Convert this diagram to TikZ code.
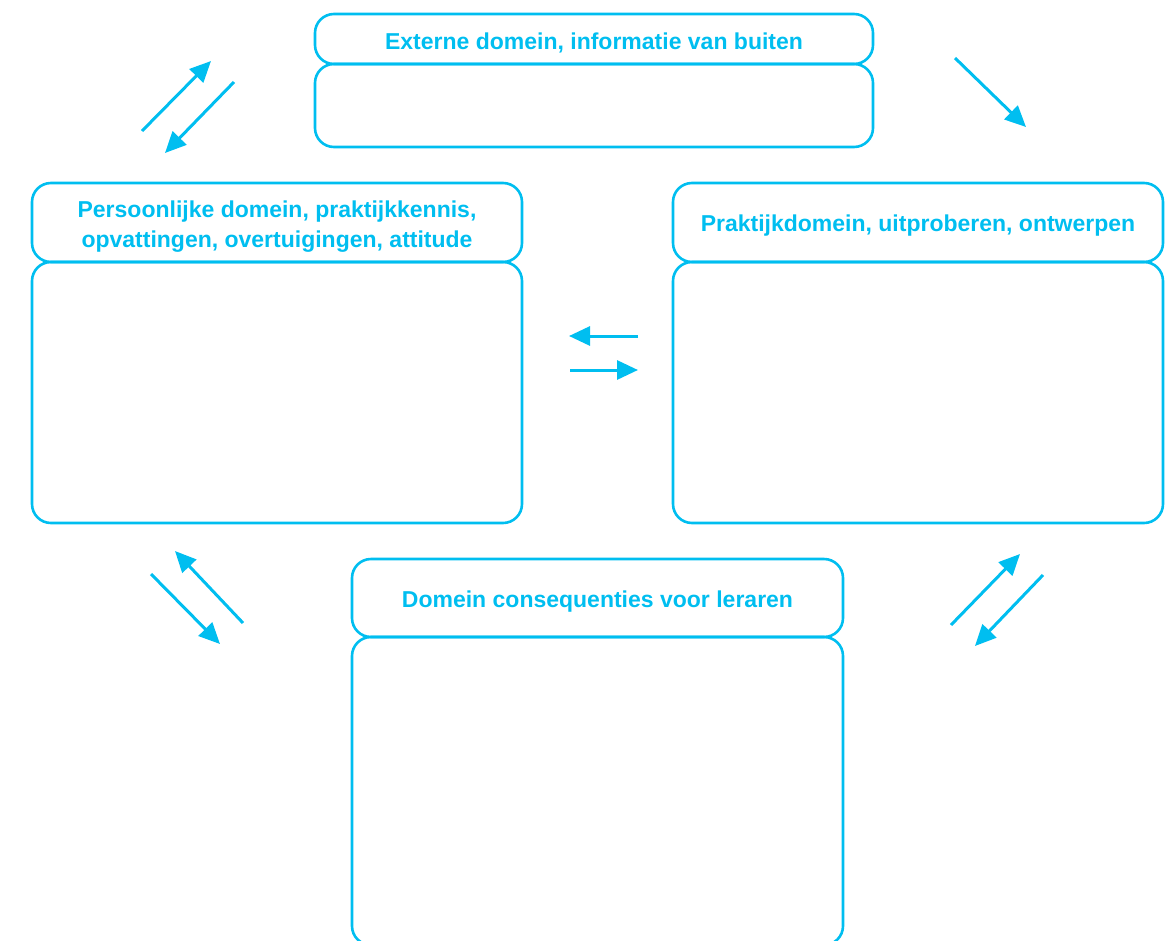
\documentclass[tikz,border=0pt]{standalone}
\usepackage{fontspec}
\setmainfont{Liberation Sans}
\usetikzlibrary{arrows.meta}
\definecolor{sky}{HTML}{00BEF0}
\tikzset{
  box/.style={draw=sky, line width=2.6pt, rounded corners=19pt, inner sep=0pt, fill=none},
  lbl/.style={text=sky, font=\bfseries\fontsize{23}{30}\selectfont, align=center, inner sep=0pt},
  arr/.style={draw=sky, line width=3pt, -{Triangle[length=21pt,width=19pt]}}
}
\begin{document}
\begin{tikzpicture}[x=1pt,y=-1pt]
\useasboundingbox (0,0) rectangle (1167,940);
\clip (0,0) rectangle (1167,940);
% top
\node[box, minimum width=558pt, minimum height=50pt] (th) at (594,39) {};
\node[box, minimum width=558pt, minimum height=83pt] (tb) at (594,105.5) {};
\node[lbl] (tt) at ([yshift=-3.5pt]th.center) {Externe domein, informatie van buiten};
% left
\node[box, minimum width=490pt, minimum height=79pt] (lh) at (277,222.5) {};
\node[box, minimum width=490pt, minimum height=261pt] (lb) at (277,392.5) {};
\node[lbl] (lt) at ([yshift=-4pt]lh.center) {Persoonlijke domein, praktijkkennis,\\opvattingen, overtuigingen, attitude};
% right
\node[box, minimum width=490pt, minimum height=79pt] (rh) at (918,222.5) {};
\node[box, minimum width=490pt, minimum height=261pt] (rb) at (918,392.5) {};
\node[lbl] (rt) at ([yshift=-3pt]rh.center) {Praktijkdomein, uitproberen, ontwerpen};
% bottom
\node[box, minimum width=491pt, minimum height=78pt] (bh) at (597.5,598) {};
\node[box, minimum width=491pt, minimum height=308pt] (bb) at (597.5,791) {};
\node[lbl] (bt) at ([yshift=-4pt]bh.center) {Domein consequenties voor leraren};
% arrow coordinates
\coordinate (a1s) at (142,131); \coordinate (a1e) at (211,61);
\coordinate (a2s) at (234,82);  \coordinate (a2e) at (165,153);
\coordinate (a3s) at (955,58);  \coordinate (a3e) at (1026,127);
\coordinate (a4s) at (638,336); \coordinate (a4e) at (569,336);
\coordinate (a5s) at (570,370); \coordinate (a5e) at (638,370);
\coordinate (a6s) at (243,623); \coordinate (a6e) at (175,551);
\coordinate (a7s) at (151,574); \coordinate (a7e) at (220,644);
\coordinate (a8s) at (951,625); \coordinate (a8e) at (1020,554);
\coordinate (a9s) at (1043,575); \coordinate (a9e) at (975,646);
\foreach \i in {1,...,9} {\draw[arr] (a\i s) -- (a\i e);}
\end{tikzpicture}
\end{document}
